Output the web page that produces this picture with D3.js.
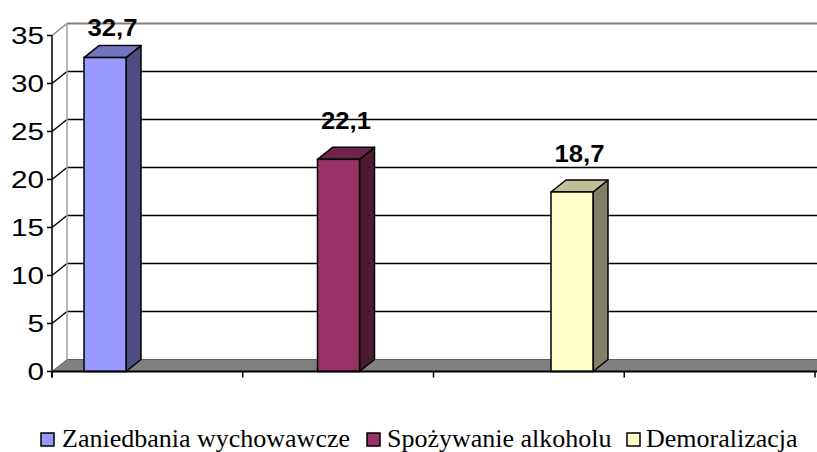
<!DOCTYPE html>
<html>
<head>
<meta charset="utf-8">
<script src="https://cdn.jsdelivr.net/npm/d3@7"></script>
<style>
  body { margin: 0; background: #fff; }
  svg { display: block; }
  .legend-text { font-family: "Liberation Serif", "DejaVu Serif", "Times New Roman", serif; font-size: 26px; }
  .num { font-family: "Liberation Sans", Arial, sans-serif; }
</style>
</head>
<body>
<div id="svg-container"></div>
<script>
// data
const series = ["Zaniedbania wychowawcze", "Spożywanie alkoholu", "Demoralizacja"];
const values = [32.7, 22.1, 18.7];
const valueLabels = ["32,7", "22,1", "18,7"];
const yTicks = [0, 5, 10, 15, 20, 25, 30, 35];

// colours: front, top, side
const fronts = ["#9999ff", "#993366", "#ffffcc"];
const tops = ["#7373c0", "#6e2449", "#c0c098"];
const sides = ["#4d4d80", "#4d1a33", "#808066"];

const width = 817, height = 452;
const depth = { x: 15, y: -12 };
const barW = 42;

const svg = d3.select("#svg-container").append("svg")
  .attr("width", width).attr("height", height);

// scales
const yScale = d3.scaleLinear().domain([0, 35]).range([371.5, 35.5]);
const xScale = d3.scalePoint().domain(series).range([105, 572]);
const catScale = d3.scaleLinear().domain([0, 4]).range([52, 815]);
const x0 = catScale(0);

// floor
const y0 = yScale(0);
svg.append("path")
  .attr("d", `M${x0},${y0} L${x0 + depth.x},${y0 + depth.y} L${width + 20},${y0 + depth.y} L${width + 20},${y0} Z`)
  .attr("fill", "#808080")
  .attr("stroke", "#606060")
  .attr("stroke-width", 1);

// back wall gridlines
svg.append("g").selectAll("line")
  .data(yTicks.filter((d) => d > 0))
  .join("line")
  .attr("x1", x0 + depth.x).attr("x2", width)
  .attr("y1", (d) => yScale(d) + depth.y).attr("y2", (d) => yScale(d) + depth.y)
  .attr("stroke", (d) => (d === 35 ? "#808080" : "#000"))
  .attr("stroke-width", (d) => (d === 35 ? 2 : 1.5));

// side wall diagonals
svg.append("g").selectAll("line")
  .data(yTicks.filter((d) => d > 0))
  .join("line")
  .attr("x1", x0).attr("x2", x0 + depth.x)
  .attr("y1", (d) => yScale(d)).attr("y2", (d) => yScale(d) + depth.y)
  .attr("stroke", (d) => (d === 35 ? "#808080" : "#000"))
  .attr("stroke-width", 1.5);

// back wall left edge
svg.append("line")
  .attr("x1", x0 + depth.x).attr("x2", x0 + depth.x)
  .attr("y1", yScale(35) + depth.y).attr("y2", y0 + depth.y)
  .attr("stroke", "#a0a0a0").attr("stroke-width", 1.5);

// bars
const bars = svg.append("g").selectAll("g")
  .data(series)
  .join("g");

bars.each(function (s, i) {
  const g = d3.select(this);
  const xl = xScale(s) - barW / 2;
  const xr = xl + barW;
  const yt = yScale(values[i]);
  const yb = y0;
  // side
  g.append("path")
    .attr("d", `M${xr},${yt} L${xr + depth.x},${yt + depth.y} L${xr + depth.x},${yb + depth.y} L${xr},${yb} Z`)
    .attr("fill", sides[i]).attr("stroke", "#000").attr("stroke-width", 1.5)
    .attr("stroke-linejoin", "round");
  // top
  g.append("path")
    .attr("d", `M${xl},${yt} L${xl + depth.x},${yt + depth.y} L${xr + depth.x},${yt + depth.y} L${xr},${yt} Z`)
    .attr("fill", tops[i]).attr("stroke", "#000").attr("stroke-width", 1.5)
    .attr("stroke-linejoin", "round");
  // front
  g.append("rect")
    .attr("x", xl).attr("y", yt)
    .attr("width", barW).attr("height", yb - yt)
    .attr("fill", fronts[i]).attr("stroke", "#000").attr("stroke-width", 1.5);
  // value label
  g.append("text")
    .attr("class", "num")
    .attr("x", xScale(s) + depth.x / 2)
    .attr("y", Math.max(yt + depth.y - 18, 36))
    .attr("text-anchor", "middle")
    .attr("font-weight", "bold")
    .attr("font-size", 24)
    .attr("textLength", 50)
    .attr("lengthAdjust", "spacingAndGlyphs")
    .text(valueLabels[i]);
});

// front floor edge + category ticks
svg.append("line")
  .attr("x1", x0).attr("x2", width)
  .attr("y1", y0).attr("y2", y0)
  .attr("stroke", "#000").attr("stroke-width", 2);
svg.append("g").selectAll("line")
  .data(d3.range(5))
  .join("line")
  .attr("x1", (d) => catScale(d)).attr("x2", (d) => catScale(d))
  .attr("y1", y0).attr("y2", y0 + 6)
  .attr("stroke", "#000").attr("stroke-width", 1.5);

// y axis
svg.append("line")
  .attr("x1", x0).attr("x2", x0)
  .attr("y1", yScale(35)).attr("y2", y0 + 6)
  .attr("stroke", "#000").attr("stroke-width", 1.5);
svg.append("g").selectAll("line")
  .data(yTicks)
  .join("line")
  .attr("x1", x0 - 5).attr("x2", x0)
  .attr("y1", (d) => yScale(d)).attr("y2", (d) => yScale(d))
  .attr("stroke", "#000").attr("stroke-width", 1.5);
svg.append("g").selectAll("text")
  .data(yTicks)
  .join("text")
  .attr("class", "num")
  .attr("x", 44)
  .attr("y", (d) => yScale(d) + 8.5)
  .attr("text-anchor", "end")
  .attr("font-size", 24)
  .attr("textLength", (d) => String(d).length * 16.5)
  .attr("lengthAdjust", "spacingAndGlyphs")
  .text((d) => d);

// legend
const legendX = [41, 367, 627];
const legend = svg.append("g").selectAll("g")
  .data(series)
  .join("g")
  .attr("transform", (d, i) => `translate(${legendX[i]},433)`);
legend.append("rect")
  .attr("width", 13).attr("height", 13)
  .attr("fill", (d, i) => fronts[i])
  .attr("stroke", "#000").attr("stroke-width", 1.5);
legend.append("text")
  .attr("class", "legend-text")
  .attr("x", (d, i) => [21, 20, 19][i])
  .attr("y", 14)
  .text((d) => d);
</script>
</body>
</html>
